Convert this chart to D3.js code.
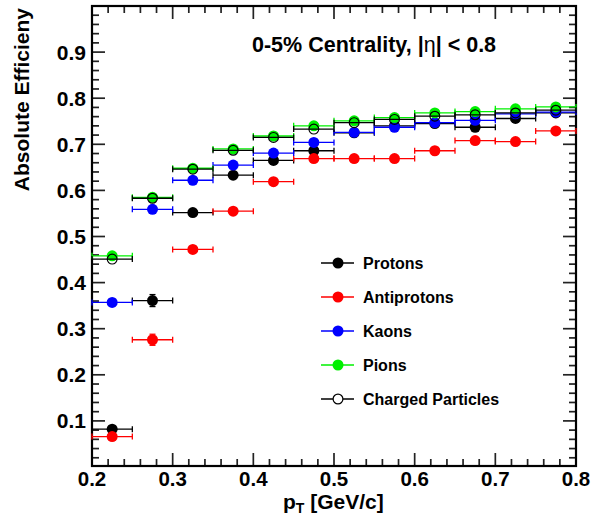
<!DOCTYPE html>
<html>
<head>
<meta charset="utf-8">
<title>Absolute Efficiency</title>
<script src="https://d3js.org/d3.v7.min.js"></script>
<style>
  body { margin: 0; background: #fff; }
  svg text { font-family: "Liberation Sans", Arial, Helvetica, sans-serif; font-weight: bold; fill: #000; }
</style>
</head>
<body>
<script>
// pT bin centres, each bin is 0.05 wide
var ptCenters = [0.225, 0.275, 0.325, 0.375, 0.425, 0.475, 0.525, 0.575, 0.625, 0.675, 0.725, 0.775];
var ptHalfWidth = 0.025;

var protons     = [0.082, 0.361, 0.552, 0.633, 0.665, 0.686, 0.725, 0.740, 0.745, 0.737, 0.756, 0.768];
var protonsErr  = [0.004, 0.013, 0.010, 0.007, 0.007, 0.006, 0.005, 0.005, 0.005, 0.005, 0.005, 0.005];
var antiprotons = [0.066, 0.276, 0.472, 0.555, 0.619, 0.669, 0.669, 0.669, 0.686, 0.708, 0.706, 0.729];
var antiprotonsErr = [0.004, 0.012, 0.010, 0.008, 0.007, 0.006, 0.005, 0.005, 0.005, 0.005, 0.005, 0.005];
var kaons       = [0.357, 0.559, 0.622, 0.655, 0.681, 0.704, 0.726, 0.737, 0.747, 0.752, 0.766, 0.770];
var kaonsErr    = [0.003, 0.003, 0.003, 0.003, 0.003, 0.003, 0.003, 0.003, 0.003, 0.003, 0.003, 0.003];
var pions       = [0.458, 0.585, 0.648, 0.690, 0.718, 0.740, 0.751, 0.758, 0.768, 0.771, 0.777, 0.781];
var pionsErr    = [0.003, 0.003, 0.003, 0.003, 0.003, 0.003, 0.003, 0.003, 0.003, 0.003, 0.003, 0.003];
var charged     = [0.451, 0.583, 0.646, 0.687, 0.715, 0.733, 0.747, 0.754, 0.761, 0.764, 0.768, 0.774];
var chargedErr  = [0.002, 0.002, 0.002, 0.002, 0.002, 0.002, 0.002, 0.002, 0.002, 0.002, 0.002, 0.002];

var seriesNames = ["Protons", "Antiprotons", "Kaons", "Pions", "Charged Particles"];
var xTicks = [0.2, 0.3, 0.4, 0.5, 0.6, 0.7, 0.8];
var yTicks = [0.1, 0.2, 0.3, 0.4, 0.5, 0.6, 0.7, 0.8, 0.9];

var series = [
  {name: seriesNames[0], vals: protons, errs: protonsErr, color: "#000000", open: false},
  {name: seriesNames[1], vals: antiprotons, errs: antiprotonsErr, color: "#ff0000", open: false},
  {name: seriesNames[2], vals: kaons, errs: kaonsErr, color: "#0000ff", open: false},
  {name: seriesNames[3], vals: pions, errs: pionsErr, color: "#00f000", open: false},
  {name: seriesNames[4], vals: charged, errs: chargedErr, color: "#000000", open: true}
];

var W = 591, H = 516;
var padL = 92, padR = 576, padT = 6, padB = 466;
var r = 5.5;

var x = d3.scaleLinear().domain([0.2, 0.8]).range([padL, padR]);
var y = d3.scaleLinear().domain([0, 1]).range([padB + 1, padT]);

var svg = d3.select("body").append("svg").attr("width", W).attr("height", H);

// ticks on all four sides, ROOT style
var xMinor = d3.range(0.2, 0.8001, 0.02);
var yMinor = d3.range(0.02, 1.0, 0.02);
var ticks = svg.append("g").attr("stroke", "#222").attr("stroke-width", 1.7);
xMinor.forEach(function(v, i) {
  var len = (i % 5 === 0) ? 13 : 7;
  ticks.append("line").attr("x1", x(v)).attr("x2", x(v)).attr("y1", padB).attr("y2", padB - len);
  ticks.append("line").attr("x1", x(v)).attr("x2", x(v)).attr("y1", padT).attr("y2", padT + len);
});
yMinor.forEach(function(v, i) {
  var len = ((i + 1) % 5 === 0) ? 13 : 7;
  ticks.append("line").attr("y1", y(v)).attr("y2", y(v)).attr("x1", padL).attr("x2", padL + len);
  ticks.append("line").attr("y1", y(v)).attr("y2", y(v)).attr("x1", padR).attr("x2", padR - len);
});

svg.append("rect").attr("x", padL).attr("y", padT).attr("width", padR - padL).attr("height", padB - padT)
  .attr("fill", "none").attr("stroke", "#000").attr("stroke-width", 2.2);

svg.selectAll(".xlab").data(xTicks).enter().append("text")
  .attr("x", function(d) { return x(d); }).attr("y", padB + 19.5)
  .attr("text-anchor", "middle").attr("font-size", 20.5)
  .text(function(d) { return d.toFixed(1); });

svg.selectAll(".ylab").data(yTicks).enter().append("text")
  .attr("x", padL - 6).attr("y", function(d) { return y(d) + 7.5; })
  .attr("text-anchor", "end").attr("font-size", 21)
  .text(function(d) { return d.toFixed(1); });

// axis titles
var xt = svg.append("text").attr("x", 283).attr("y", 509).attr("font-size", 21);
xt.append("tspan").text("p");
xt.append("tspan").attr("font-size", 14).attr("dy", 4).text("T");
xt.append("tspan").attr("dy", -4).text(" [GeV/c]");

svg.append("text").attr("transform", "translate(29,8) rotate(-90)")
  .attr("text-anchor", "end").attr("font-size", 21).text("Absolute Efficieny");

var tt = svg.append("text").attr("x", 252).attr("y", 52).attr("font-size", 21.5);
tt.append("tspan").text("0-5% Centrality, |");
tt.append("tspan").attr("font-weight", "normal").text("\u03b7");
tt.append("tspan").text("| < 0.8");

// data
series.forEach(function(s) {
  var g = svg.append("g");
  var pts = ptCenters.map(function(c, i) { return {x: c, y: s.vals[i], e: s.errs[i]}; });
  var eg = g.append("g").attr("stroke", s.color).attr("stroke-width", 1.3);
  pts.forEach(function(p) {
    eg.append("line").attr("x1", x(p.x - ptHalfWidth)).attr("x2", x(p.x + ptHalfWidth))
      .attr("y1", y(p.y)).attr("y2", y(p.y));
    eg.append("line").attr("x1", x(p.x - ptHalfWidth)).attr("x2", x(p.x - ptHalfWidth))
      .attr("y1", y(p.y) - 3).attr("y2", y(p.y) + 3);
    eg.append("line").attr("x1", x(p.x + ptHalfWidth)).attr("x2", x(p.x + ptHalfWidth))
      .attr("y1", y(p.y) - 3).attr("y2", y(p.y) + 3);
    if (y(p.y - p.e) - y(p.y + p.e) > 2 * r) {
      eg.append("line").attr("x1", x(p.x)).attr("x2", x(p.x))
        .attr("y1", y(p.y + p.e)).attr("y2", y(p.y - p.e));
      eg.append("line").attr("x1", x(p.x) - 3).attr("x2", x(p.x) + 3)
        .attr("y1", y(p.y + p.e)).attr("y2", y(p.y + p.e));
      eg.append("line").attr("x1", x(p.x) - 3).attr("x2", x(p.x) + 3)
        .attr("y1", y(p.y - p.e)).attr("y2", y(p.y - p.e));
    }
  });
  g.selectAll("circle").data(pts).enter().append("circle")
    .attr("cx", function(p) { return x(p.x); }).attr("cy", function(p) { return y(p.y); })
    .attr("r", s.open ? r - 0.6 : r)
    .attr("fill", s.open ? "none" : s.color)
    .attr("stroke", s.open ? s.color : "none").attr("stroke-width", 1.2);
});

// legend
var leg = svg.append("g");
series.forEach(function(s, i) {
  var ly = 263 + i * 34;
  leg.append("line").attr("x1", 321).attr("x2", 354).attr("y1", ly).attr("y2", ly)
    .attr("stroke", s.color).attr("stroke-width", 1.3);
  leg.append("circle").attr("cx", 338).attr("cy", ly).attr("r", s.open ? r - 0.6 : r)
    .attr("fill", s.open ? "#fff" : s.color)
    .attr("stroke", s.open ? s.color : "none").attr("stroke-width", 1.2);
  leg.append("text").attr("x", 363).attr("y", ly + 6).attr("font-size", 16).text(s.name);
});
</script>
</body>
</html>
